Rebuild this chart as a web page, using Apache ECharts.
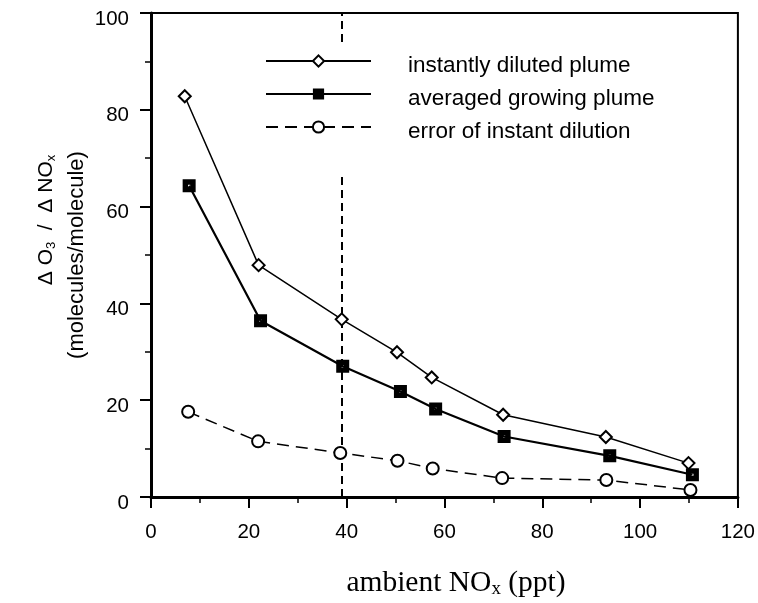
<!DOCTYPE html>
<html>
<head>
<meta charset="utf-8">
<script src="https://cdn.jsdelivr.net/npm/echarts@6/dist/echarts.min.js"></script>
<style>
  html, body { margin: 0; padding: 0; background: #fff; }
  #chart { width: 758px; height: 603px; }
</style>
</head>
<body>
<div id="chart"></div>
<script>
// Ozone production efficiency versus ambient NOx
const seriesNames = ['instantly diluted plume', 'averaged growing plume', 'error of instant dilution'];

const xDiluted = [6.9, 22.0, 39.0, 50.3, 57.4, 72.0, 93.0, 109.9];
const yDiluted = [82.8, 47.9, 36.7, 29.9, 24.7, 17.0, 12.4, 7.0];

const xGrowing = [7.8, 22.4, 39.2, 51.0, 58.2, 72.2, 93.8, 110.7];
const yGrowing = [64.3, 36.4, 27.0, 21.8, 18.2, 12.5, 8.5, 4.6];

const xError = [7.6, 21.9, 38.7, 50.4, 57.6, 71.8, 93.1, 110.3];
const yError = [17.6, 11.5, 9.1, 7.5, 5.9, 3.9, 3.5, 1.45];

// reference NOx level marked with a vertical dashed line
const referenceNOx = 39;

const xTicks = [0, 20, 40, 60, 80, 100, 120];
const yTicks = [0, 20, 40, 60, 80, 100];

const pairs = (xs, ys) => xs.map((x, i) => [x, ys[i]]);

const sans = 'Liberation Sans, Arial, Helvetica, sans-serif';
const serif = 'Liberation Serif, Times New Roman, serif';

// filled square with a small hollow centre
const squareSymbol = 'path://M0,0L12,0L12,12L0,12Z M5,5L5,7L7,7L7,5Z';

const chart = echarts.init(document.getElementById('chart'), null, { renderer: 'canvas' });

chart.setOption({
  animation: false,
  backgroundColor: '#fff',
  grid: {
    left: 151, top: 13, right: 19, bottom: 106,
    show: true, borderColor: '#000', borderWidth: 2, backgroundColor: 'transparent'
  },
  legend: {
    z: 20,
    orient: 'vertical',
    left: 253, top: 42,
    padding: [12, 20, 30, 12],
    backgroundColor: '#fff',
    itemWidth: 105, itemHeight: 14, itemGap: 10,
    selectedMode: false,
    data: seriesNames,
    formatter: '{t|{name}}',
    textStyle: {
      fontFamily: sans, fontSize: 22.5, color: '#000',
      rich: { t: { fontFamily: sans, fontSize: 22.5, color: '#000', padding: [9, 0, 0, 32] } }
    }
  },
  xAxis: {
    type: 'value',
    min: xTicks[0], max: xTicks[xTicks.length - 1], interval: 20,
    axisLine: { show: true, lineStyle: { color: '#000', width: 3 } },
    axisTick: { show: true, length: 11, lineStyle: { color: '#000', width: 2 } },
    minorTick: { show: true, splitNumber: 2, length: 6, lineStyle: { color: '#000', width: 1.5 } },
    splitLine: { show: false },
    axisLabel: { fontFamily: sans, fontSize: 20.5, color: '#000', margin: 25 }
  },
  yAxis: {
    type: 'value',
    min: yTicks[0], max: yTicks[yTicks.length - 1], interval: 20,
    axisLine: { show: true, lineStyle: { color: '#000', width: 3 } },
    axisTick: { show: true, length: 11, lineStyle: { color: '#000', width: 2 } },
    minorTick: { show: true, splitNumber: 2, length: 6, lineStyle: { color: '#000', width: 1.5 } },
    splitLine: { show: false },
    axisLabel: {
      fontFamily: sans, fontSize: 20.5, color: '#000', margin: 22,
      verticalAlign: 'top', lineHeight: 12
    }
  },
  series: [
    {
      name: seriesNames[0],
      type: 'line',
      data: pairs(xDiluted, yDiluted),
      symbol: 'diamond', symbolSize: 12,
      itemStyle: { color: '#fff', borderColor: '#000', borderWidth: 2 },
      lineStyle: { color: '#000', width: 1.5 },
      z: 3,
      markLine: {
        silent: true,
        z: 1,
        symbol: ['none', 'none'],
        label: { show: false },
        lineStyle: { color: '#000', width: 2, type: [8, 5] },
        data: [{ xAxis: referenceNOx }]
      }
    },
    {
      name: seriesNames[1],
      type: 'line',
      data: pairs(xGrowing, yGrowing),
      symbol: squareSymbol, symbolSize: 13,
      itemStyle: { color: '#000', borderColor: '#000', borderWidth: 0 },
      lineStyle: { color: '#000', width: 2.2 },
      z: 3
    },
    {
      name: seriesNames[2],
      type: 'line',
      data: pairs(xError, yError),
      symbol: 'circle', symbolSize: 12,
      itemStyle: { color: '#fff', borderColor: '#000', borderWidth: 2 },
      lineStyle: { color: '#000', width: 1.5, type: [12, 7] },
      z: 3
    }
  ],
  graphic: [
    {
      type: 'text',
      x: 46, y: 220,
      rotation: Math.PI / 2,
      style: {
        text: '{a|Δ O}{s|3}{a|  /  Δ NO}{s|x}',
        align: 'center', verticalAlign: 'middle',
        rich: {
          a: { fontFamily: sans, fontSize: 21, lineHeight: 24, color: '#000', verticalAlign: 'middle' },
          s: { fontFamily: sans, fontSize: 13, lineHeight: 13, color: '#000', verticalAlign: 'bottom' }
        }
      }
    },
    {
      type: 'text',
      x: 77, y: 255,
      rotation: Math.PI / 2,
      style: {
        text: '(molecules/molecule)',
        align: 'center', verticalAlign: 'middle',
        fontFamily: sans, fontSize: 22, fill: '#000'
      }
    },
    {
      type: 'text',
      x: 456, y: 583,
      style: {
        text: '{a|ambient NO}{s|x}{a| (ppt)}',
        align: 'center', verticalAlign: 'middle',
        rich: {
          a: { fontFamily: serif, fontSize: 29.5, lineHeight: 32, color: '#000', verticalAlign: 'middle' },
          s: { fontFamily: serif, fontSize: 19, lineHeight: 19, color: '#000', verticalAlign: 'bottom' }
        }
      }
    }
  ]
});
</script>
</body>
</html>
